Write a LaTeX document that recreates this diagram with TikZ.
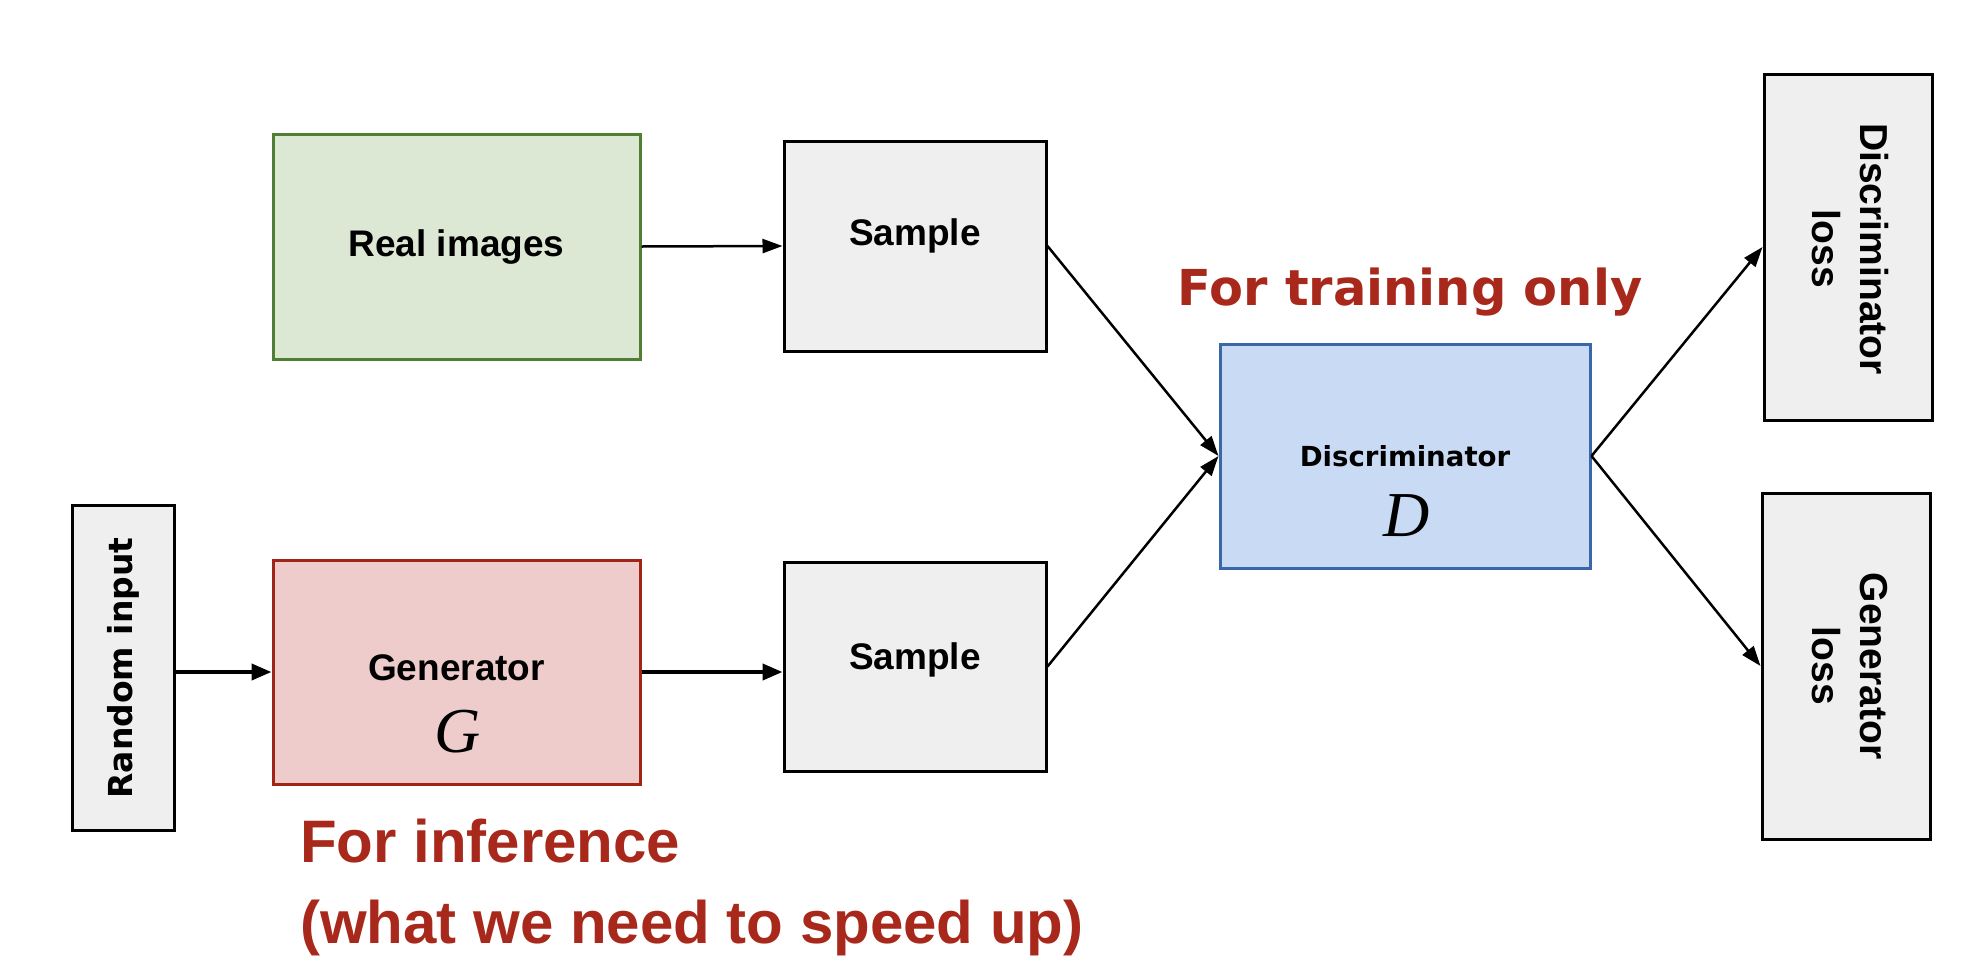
\documentclass[tikz,border=0pt]{standalone}
\usepackage{fontspec}
\usetikzlibrary{arrows.meta}
\newfontfamily\arialf{Liberation Sans}
\newfontfamily\dejaf{DejaVu Sans}
\newfontfamily\timesf{Liberation Serif}
\definecolor{greenfill}{HTML}{DCE8D4}
\definecolor{greenline}{HTML}{4F7F32}
\definecolor{redfill}{HTML}{EECCCB}
\definecolor{redline}{HTML}{A02418}
\definecolor{bluefill}{HTML}{C9DAF4}
\definecolor{blueline}{HTML}{3A67A7}
\definecolor{grayfill}{HTML}{EFEFEF}
\definecolor{notered}{HTML}{A8291B}
\tikzset{
  basebox/.style={line width=3pt, inner sep=0pt, align=center},
  graybox/.style={basebox, draw=black, fill=grayfill},
  greenbox/.style={basebox, draw=greenline, fill=greenfill},
  redbox/.style={basebox, draw=redline, fill=redfill},
  bluebox/.style={basebox, draw=blueline, fill=bluefill},
  boxtext/.style={font=\arialf\bfseries\fontsize{37}{44}\selectfont, inner sep=0pt},
  losstext/.style={font=\arialf\bfseries\fontsize{39}{48}\selectfont, inner sep=0pt, align=center, rotate=-90},
  mathtext/.style={font=\timesf\itshape\fontsize{64}{64}\selectfont, inner sep=0pt},
  note/.style={text=notered, inner sep=0pt},
  arr/.style={-{Triangle[length=20pt,width=14pt]}, line width=2.5pt},
  arrthick/.style={-{Triangle[length=20pt,width=16pt]}, line width=4pt},
}
\begin{document}
\begin{tikzpicture}[x=1pt,y=-1pt]
\useasboundingbox (0,0) rectangle (1988,972);
% boxes
\node[greenbox, minimum width=367pt, minimum height=225pt] (real) at (456.5,246.5) {};
\node[boxtext] (realt) at (456.5,247) {Real images};
\node[graybox, minimum width=262pt, minimum height=210pt] (s1) at (915,246) {};
\node[boxtext] (s1t) at (915,236) {Sample};
\node[graybox, minimum width=102pt, minimum height=325pt] (rnd) at (123,667.5) {};
\node[font=\dejaf\bfseries\fontsize{33}{40}\selectfont, inner sep=0pt, rotate=90] (rndt) at (123,668) {Random input};
\node[redbox, minimum width=367pt, minimum height=224pt] (gen) at (456.5,672) {};
\node[boxtext] (gent) at (456.5,668) {Generator};
\node[mathtext] (gmath) at (458,732) {G};
\node[graybox, minimum width=262pt, minimum height=209pt] (s2) at (915,666.5) {};
\node[boxtext] (s2t) at (915,660) {Sample};
\node[bluebox, minimum width=370pt, minimum height=224pt] (disc) at (1405,456) {};
\node[font=\dejaf\bfseries\fontsize{27.6}{33}\selectfont, inner sep=0pt] (disct) at (1405,456) {Discriminator};
\node[mathtext] (dmath) at (1407,516) {D};
\node[graybox, minimum width=168pt, minimum height=346pt] (dl) at (1848,247) {};
\node[losstext] (dlt) at (1850,249) {Discriminator\\loss};
\node[graybox, minimum width=168pt, minimum height=346pt] (gl) at (1846,666) {};
\node[losstext] (glt) at (1850,666) {Generator\\loss};
% notes
\node[note, font=\dejaf\bfseries\fontsize{49.5}{54}\selectfont] (train) at (1410,292) {For training only};
\node[note, font=\arialf\bfseries\fontsize{60}{64}\selectfont, anchor=west] (inf) at (300,841) {For inference};
\node[note, font=\arialf\bfseries\fontsize{60}{64}\selectfont, anchor=west] (speed) at (300,928) {(what we need to speed up)};
% connectors
\draw[arr] (real.east) -- (s1.west);
\draw[arrthick] (rnd.east |- gen.west) -- (gen.west);
\draw[arrthick] (gen.east) -- (s2.west |- gen.east);
\draw[arr] (s1.east) -- (disc.west);
\draw[arr] (s2.east) -- (disc.west);
\draw[arr] (disc.east) -- (dl.west);
\draw[arr] (disc.east) -- (gl.west);
\end{tikzpicture}
\end{document}
